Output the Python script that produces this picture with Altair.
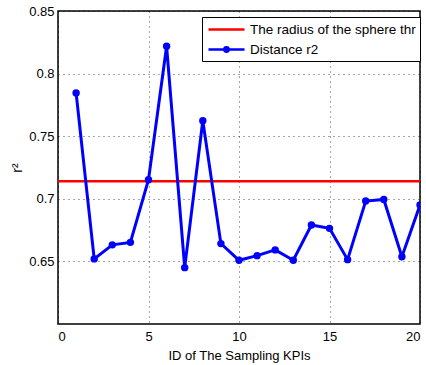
import altair as alt
import pandas as pd

ids = list(range(1, 21))
r2 = [0.7846, 0.6520, 0.6632, 0.6652, 0.7152, 0.8218, 0.6450, 0.7623, 0.6642, 0.6509,
      0.6546, 0.6592, 0.6509, 0.6791, 0.6764, 0.6514, 0.6982, 0.6995, 0.6538, 0.6951]
thr_x = [0, 20]
thr_value = 0.7141
names = ["The radius of the sphere thr", "Distance r2"]
colors = ["#ff0000", "#0000ff"]

df_d = pd.DataFrame({"x": ids, "y": r2, "s": names[1]})
df_t = pd.DataFrame({"x": thr_x, "y": [thr_value] * len(thr_x), "s": names[0]})

FONT = "Liberation Sans"

xs = alt.Scale(domain=[0, 20], nice=False)
ys = alt.Scale(domain=[0.6, 0.85], nice=False, zero=False)
cs = alt.Scale(domain=names, range=colors)

line_path = "M-0.86,0H4.29"
dot_path = ("M-0.86,0H4.29M2.02,0A0.31,0.31 0 1,1 1.40,0"
            "A0.31,0.31 0 1,1 2.02,0Z")
ss = alt.Scale(domain=names, range=[line_path, dot_path])

legend = alt.Legend(
    title=None, orient="none", legendX=144, legendY=6,
    fillColor="white", strokeColor="black", padding=4,
    symbolSize=196, symbolStrokeWidth=2.5,
    labelFont=FONT, labelFontSize=13.5, labelColor="black", rowPadding=5,
    labelLimit=300, labelOffset=27,
)

xaxis = alt.Axis(values=[0, 5, 10, 15, 20], title="ID of The Sampling KPIs", ticks=False,
                 labelPadding=6, titlePadding=6)
yaxis = alt.Axis(values=[0.65, 0.7, 0.75, 0.8, 0.85], title="r²", ticks=False,
                 labelPadding=4, labelExpr="datum.value < 0.62 ? '' : format(datum.value, '.2~f')")

thr = alt.Chart(df_t).mark_line(strokeWidth=2.5, clip=True).encode(
    x=alt.X("x:Q", scale=xs, axis=xaxis),
    y=alt.Y("y:Q", scale=ys, axis=yaxis),
    color=alt.Color("s:N", scale=cs, legend=legend),
)

dist = alt.Chart(df_d).mark_line(strokeWidth=3, clip=True,
                                 point=alt.OverlayMarkDef(filled=True, size=55)).encode(
    x=alt.X("x:Q", scale=xs),
    y=alt.Y("y:Q", scale=ys),
    color=alt.Color("s:N", scale=cs, legend=legend),
)

legend_layer = alt.Chart(df_d).transform_filter("false").mark_point(
    filled=True, strokeWidth=2.5, size=196
).encode(
    x=alt.X("x:Q", scale=xs),
    y=alt.Y("y:Q", scale=ys),
    color=alt.Color("s:N", scale=cs, legend=legend),
    stroke=alt.Stroke("s:N", scale=cs, legend=legend),
    shape=alt.Shape("s:N", scale=ss, legend=legend),
)

chart = alt.layer(thr, dist, legend_layer).properties(
    width=362, height=313,
    autosize=alt.AutoSizeParams(type="none"),
    padding={"left": 58, "top": 11, "right": 6, "bottom": 41},
).configure_view(
    stroke="black", strokeWidth=1.5,
).configure_axis(
    grid=True, gridColor="black", gridDash=[1, 4], gridOpacity=0.7, gridWidth=1,
    domain=False, labelFont=FONT, labelFontSize=13, labelColor="black",
    titleFont=FONT, titleFontSize=13, titleFontWeight="normal", titleColor="black",
).configure_axisY(
    titleAngle=-90, titleFontSize=14,
)

chart.save("out.html", embed_options={"renderer": "svg", "actions": False})
